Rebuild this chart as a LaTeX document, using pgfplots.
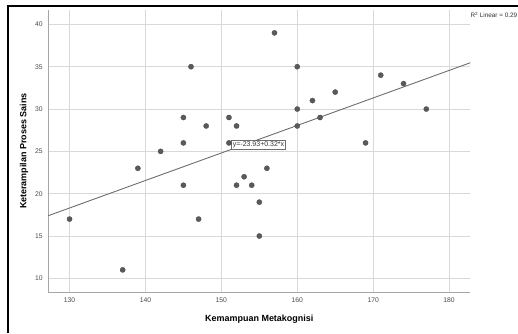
\documentclass[border=0pt]{standalone}
\usepackage{fontspec}
\setmainfont{Liberation Sans}
\usepackage{pgfplots}
\pgfplotsset{compat=1.18}
\definecolor{gridc}{HTML}{D9D9D9}
\definecolor{axc}{HTML}{A6A6A6}
\definecolor{ptc}{HTML}{5A5A5A}
\definecolor{fitc}{HTML}{6E6E6E}
\begin{document}
\begin{tikzpicture}[x=1bp,y=1bp]
\path[use as bounding box, fill=white] (0,0) rectangle (518,333);
\draw[line width=2bp, black] (8,0) -- (8,327) -- (518,327);
\begin{axis}[
 at={(48.3bp,40.7bp)}, anchor=south west,
 scale only axis, width=422bp, height=282.3bp,
 xmin=127.2, xmax=182.8, ymin=8.35, ymax=41.7,
 xtick={130,140,...,180}, ytick={10,15,...,40},
 grid=major, major grid style={gridc, line width=0.9bp},
 axis x line=bottom, axis y line=left, axis line style={axc, line width=1bp, -},
 tick style={draw=none},
 ticklabel style={font=\fontsize{6.8}{8}\selectfont, text=black!70},
 /pgf/number format/assume math mode=true,
 xlabel={Kemampuan Metakognisi}, ylabel={Keterampilan Proses Sains},
 label style={font=\bfseries\fontsize{9}{11}\selectfont},
 xlabel style={at={(axis description cs:0.5,-0.0946)}, anchor=center},
 ylabel style={at={(axis description cs:-0.0576,0.5)}, anchor=center},
 clip=false,
]
\addplot[fitc, line width=0.9bp] coordinates {(127.2,17.4) (182.8,35.47)};
\addplot[only marks, mark=*, mark size=2.6bp, mark options={fill=ptc, draw=ptc!80!black, line width=0.3bp}] coordinates {
(130,17) (137,11) (139,23) (142,25) (145,29) (145,26) (145,21) (146,35)
(147,17) (148,28) (151,29) (151,26) (152,28) (152,21) (153,22) (154,21)
(155,19) (155,15) (156,23) (157,39) (160,35) (160,30) (160,28) (162,31)
(163,29) (165,32) (169,26) (171,34) (174,33) (177,30)
};
\node[draw=fitc, fill=white, anchor=west, inner sep=1.5bp, font=\fontsize{7}{8}\selectfont, text=black!80] at (axis cs:151.3,25.77) {y=-23.93+0.32*x};
\end{axis}
\node[anchor=west, inner sep=0, font=\fontsize{6.4}{7}\selectfont, text=black!80] at (470.3,318) {R\textsuperscript{2} Linear = 0.29};
\end{tikzpicture}
\end{document}
